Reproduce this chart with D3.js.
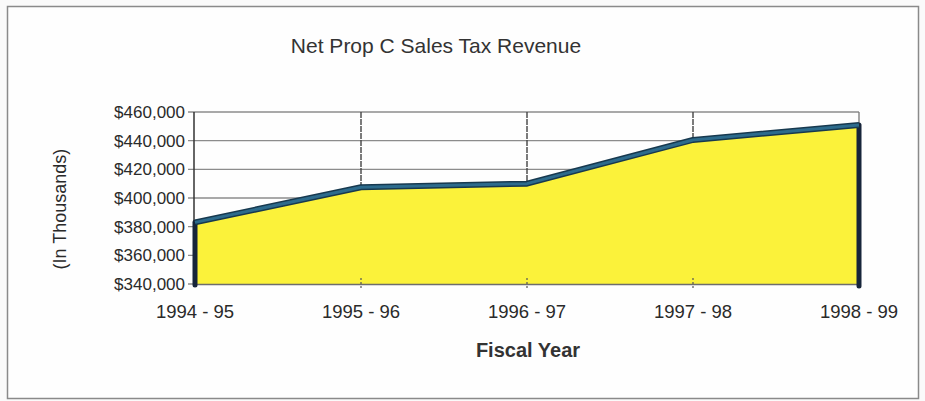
<!DOCTYPE html>
<html>
<head>
<meta charset="utf-8">
<script src="https://cdn.jsdelivr.net/npm/d3@7"></script>
<style>
  html, body { margin: 0; padding: 0; background: #fafafa; }
  svg { display: block; font-family: Arial, "Liberation Sans", sans-serif; }
</style>
</head>
<body>
<svg id="chart" width="925" height="401"></svg>
<script>
// Fiscal years and net Prop C sales tax revenue (in thousands of dollars)
const fiscalYears = ["1994 - 95", "1995 - 96", "1996 - 97", "1997 - 98", "1998 - 99"];
const revenue = [383000, 407500, 410000, 440500, 451000];
const yTickValues = [340000, 360000, 380000, 400000, 420000, 440000, 460000];

const svg = d3.select("#chart");
const W = 925, H = 401;
const plot = { left: 194, right: 859, top: 112, bottom: 284 };

// outer frame of the chart
svg.append("rect").attr("x", 0).attr("y", 0).attr("width", W).attr("height", H).attr("fill", "#fafafa");
svg.append("rect")
  .attr("x", 7.5).attr("y", 6.5).attr("width", 911).attr("height", 392)
  .attr("fill", "#fefefe").attr("stroke", "#8a8a8a").attr("stroke-width", 1.5);

const x = d3.scalePoint().domain(fiscalYears).range([plot.left + 1, plot.right]).padding(0);
const y = d3.scaleLinear().domain([340000, 460000]).range([plot.bottom, plot.top]);

// horizontal gridlines with short outward ticks
svg.append("g").selectAll("line").data(yTickValues).join("line")
  .attr("x1", plot.left - 6).attr("x2", plot.right)
  .attr("y1", d => y(d)).attr("y2", d => y(d))
  .attr("stroke", "#8c8c8c").attr("stroke-width", 1.3);

// vertical gridlines at each fiscal year
svg.append("g").selectAll("line").data(fiscalYears.slice(1, -1)).join("line")
  .attr("x1", d => x(d)).attr("x2", d => x(d))
  .attr("y1", plot.top).attr("y2", plot.bottom)
  .attr("stroke", "#444").attr("stroke-width", 1.4)
  .attr("stroke-dasharray", "6,1");

// plot area border (top and right) and left axis
svg.append("line").attr("x1", plot.right).attr("x2", plot.right)
  .attr("y1", plot.top).attr("y2", plot.bottom).attr("stroke", "#777").attr("stroke-width", 1.3);
svg.append("line").attr("x1", plot.left).attr("x2", plot.left)
  .attr("y1", plot.top).attr("y2", plot.bottom).attr("stroke", "#333").attr("stroke-width", 1.5);

const pts = fiscalYears.map((c, i) => ({ c, v: revenue[i] }));

// yellow revenue area
const area = d3.area().x(d => x(d.c)).y0(y(340000)).y1(d => y(d.v));
svg.append("path").datum(pts).attr("d", area).attr("fill", "#fbf23a");

// bottom axis line
svg.append("line").attr("x1", plot.left).attr("x2", plot.right)
  .attr("y1", plot.bottom + 0.5).attr("y2", plot.bottom + 0.5)
  .attr("stroke", "#6d6d6d").attr("stroke-width", 1.3);

// category tick marks crossing the axis
svg.append("g").selectAll("line").data(fiscalYears.slice(1, -1)).join("line")
  .attr("x1", d => x(d)).attr("x2", d => x(d))
  .attr("y1", plot.bottom - 6).attr("y2", plot.bottom + 6)
  .attr("stroke", "#555").attr("stroke-width", 1.2)
  .attr("stroke-dasharray", "2,2");

// dark end edges of the area
const first = pts[0], last = pts[pts.length - 1];
svg.append("line").attr("x1", x(first.c)).attr("x2", x(first.c))
  .attr("y1", y(first.v)).attr("y2", plot.bottom + 1)
  .attr("stroke", "#17253a").attr("stroke-width", 5).attr("stroke-linecap", "round");
svg.append("line").attr("x1", x(last.c)).attr("x2", x(last.c))
  .attr("y1", y(last.v)).attr("y2", plot.bottom + 2)
  .attr("stroke", "#17253a").attr("stroke-width", 5).attr("stroke-linecap", "round");

// top outline of the area
const line = d3.line().x(d => x(d.c)).y(d => y(d.v));
svg.append("path").datum(pts).attr("d", line)
  .attr("fill", "none").attr("stroke", "#17394f").attr("stroke-width", 6).attr("stroke-linejoin", "round");
svg.append("path").datum(pts).attr("d", line)
  .attr("fill", "none").attr("stroke", "#2d6b8c").attr("stroke-width", 3).attr("stroke-linejoin", "round");

// y axis labels
const fmt = d3.format(",");
svg.append("g").selectAll("text").data(yTickValues).join("text")
  .attr("x", 185).attr("y", d => y(d))
  .attr("dy", "0.35em").attr("text-anchor", "end")
  .attr("font-size", 17).attr("fill", "#2a2a2a")
  .text(d => "$" + fmt(d));

// x axis labels
svg.append("g").selectAll("text").data(fiscalYears).join("text")
  .attr("x", d => x(d)).attr("y", 318)
  .attr("text-anchor", "middle")
  .attr("font-size", 18.5).attr("fill", "#2a2a2a")
  .text(d => d);

// axis titles
svg.append("text").attr("x", 528).attr("y", 357)
  .attr("text-anchor", "middle").attr("font-size", 20).attr("font-weight", "bold")
  .attr("fill", "#333").text("Fiscal Year");

svg.append("text")
  .attr("transform", "translate(66,209) rotate(-90)")
  .attr("text-anchor", "middle").attr("font-size", 18).attr("fill", "#2a2a2a")
  .text("(In Thousands)");

// chart title
svg.append("text").attr("x", 436).attr("y", 53)
  .attr("text-anchor", "middle").attr("font-size", 21).attr("fill", "#333")
  .text("Net Prop C Sales Tax Revenue");
</script>
</body>
</html>
